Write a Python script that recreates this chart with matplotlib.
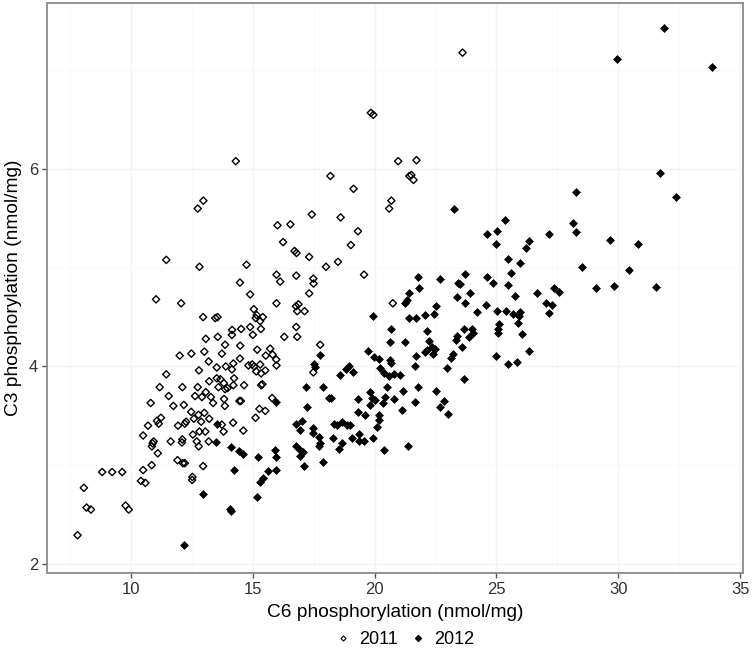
import matplotlib
matplotlib.use("Agg")
import matplotlib.pyplot as plt
from matplotlib.lines import Line2D

plt.rcParams['font.family'] = ['Liberation Sans', 'DejaVu Sans']

# 2011 series (open diamonds)
c6_2011 = [19.85, 19.95, 14.31, 20.97, 21.43, 18.19, 19.14, 12.98, 12.75, 20.69, 20.60, 17.43, 18.61, 16.02,
           16.55, 19.32, 16.25, 19.03, 16.72, 16.80, 17.32, 11.46, 12.82, 14.75, 18.01, 18.50, 14.48, 15.98,
           16.13, 16.79, 17.49, 17.50, 19.57, 14.90, 17.32, 11.04,
           23.61, 21.72, 21.51, 21.60,
           12.07, 15.98, 16.78, 16.88, 16.83, 17.13, 15.05, 15.17, 15.31, 15.42, 15.13, 12.97, 13.47, 13.56,
           14.16, 14.53, 14.90, 15.34, 15.01, 16.79, 16.83, 16.30, 13.57, 13.08, 14.15, 17.77, 13.87, 14.49,
           12.01, 12.49, 13.02, 13.74, 15.19, 15.72, 15.54, 15.82, 15.97, 15.98, 15.31, 14.98, 14.83, 14.48,
           14.21, 13.90, 14.15, 13.53, 13.20, 12.80, 13.53, 15.06, 15.15, 15.35, 15.52, 11.46, 13.22, 13.68,
           13.82, 13.60, 13.97, 14.21, 14.24, 14.65, 13.87, 11.19, 12.12, 11.56, 12.75, 12.64, 12.92, 13.08,
           13.38, 13.29, 13.83, 13.86, 14.52, 14.46, 15.35, 15.40, 15.80, 10.82, 11.75, 12.18, 12.48, 12.59,
           12.78, 13.02, 13.22, 12.89, 12.27, 11.08, 11.24, 10.71, 11.15, 11.94, 12.22, 13.81, 14.20, 14.62,
           13.74, 15.28, 15.12, 15.52, 12.55, 12.82, 13.06, 13.20, 12.79, 12.71, 12.12, 12.10, 11.64, 10.51,
           10.94, 10.87, 11.11, 10.90, 10.86, 10.51, 11.92, 12.14, 12.22, 12.97, 10.42, 10.60, 12.53, 12.52,
           8.83, 9.24, 9.65, 8.08, 8.19, 8.37, 9.79, 9.92, 7.82, 17.49, 20.75]
c3_2011 = [6.57, 6.55, 6.08, 6.08, 5.93, 5.93, 5.80, 5.68, 5.60, 5.68, 5.60, 5.54, 5.51, 5.43,
           5.44, 5.37, 5.26, 5.23, 5.17, 5.15, 5.11, 5.08, 5.01, 5.03, 5.01, 5.06, 4.85, 4.93,
           4.86, 4.92, 4.89, 4.84, 4.93, 4.73, 4.74, 4.68,
           7.18, 6.09, 5.94, 5.89,
           4.64, 4.64, 4.61, 4.63, 4.56, 4.56, 4.58, 4.52, 4.46, 4.50, 4.49, 4.50, 4.49, 4.50,
           4.37, 4.38, 4.40, 4.38, 4.32, 4.40, 4.30, 4.30, 4.30, 4.28, 4.32, 4.22, 4.22, 4.21,
           4.11, 4.13, 4.15, 4.13, 4.17, 4.18, 4.11, 4.12, 4.07, 4.01, 4.02, 4.02, 4.01, 4.08,
           4.03, 4.00, 3.97, 3.99, 4.05, 3.96, 3.88, 4.00, 3.95, 3.93, 3.96, 3.92, 3.85, 3.87,
           3.83, 3.79, 3.78, 3.81, 3.88, 3.81, 3.77, 3.79, 3.79, 3.70, 3.79, 3.70, 3.69, 3.74,
           3.63, 3.69, 3.67, 3.60, 3.65, 3.65, 3.81, 3.82, 3.68, 3.63, 3.60, 3.61, 3.54, 3.47,
           3.51, 3.53, 3.47, 3.44, 3.44, 3.45, 3.48, 3.40, 3.42, 3.40, 3.42, 3.34, 3.43, 3.35,
           3.41, 3.57, 3.48, 3.55, 3.31, 3.34, 3.34, 3.24, 3.19, 3.24, 3.26, 3.23, 3.24, 3.30,
           3.24, 3.19, 3.12, 3.22, 3.00, 2.95, 3.05, 3.02, 3.02, 2.99, 2.84, 2.82, 2.88, 2.85,
           2.93, 2.93, 2.93, 2.77, 2.57, 2.55, 2.59, 2.55, 2.29, 3.94, 4.64]

# 2012 series (filled diamonds)
c6_2012 = [31.87, 29.93, 33.86, 31.71, 32.37, 28.27, 23.28, 25.37, 24.61, 25.04, 24.99, 26.33, 26.22, 27.15,
           28.15, 28.27, 29.66, 30.79, 25.48, 25.96, 25.59, 28.49, 30.42, 21.79, 22.67, 23.72, 23.44, 23.52,
           24.62, 24.84, 25.48, 21.84, 21.40, 23.92, 23.39, 25.75, 26.66, 27.36, 27.58, 29.08, 29.84, 31.56,
           21.24, 21.34, 22.53, 22.43, 22.06, 21.40, 21.70, 23.73, 24.22, 24.58, 25.04, 25.38, 25.67, 25.96,
           25.92, 27.04, 27.26, 27.15, 25.89, 25.10, 25.06, 25.06, 26.03, 26.35, 24.99, 25.47, 25.85, 23.66,
           23.98, 24.05, 23.89, 23.40, 23.36, 23.59, 23.21, 23.14, 22.98, 23.66, 22.16, 22.25, 22.37, 22.47,
           22.40, 22.07, 22.16, 21.72, 21.66, 21.24, 21.06, 21.77, 21.17, 22.53, 21.66, 21.13, 22.85, 22.69,
           23.02, 21.36,
           12.18, 14.08, 14.11, 12.97, 15.17, 14.24, 15.32, 15.43, 15.65, 15.98, 14.11, 14.44, 14.60, 13.53,
           13.49, 15.23, 15.90, 15.98, 15.94, 16.80, 17.01, 16.95, 17.46, 17.49, 16.79, 16.95, 17.05, 16.95,
           17.10, 17.87, 17.72, 17.76, 17.72, 17.20, 17.25, 17.90, 18.15, 18.22, 17.50, 17.57, 17.76, 18.58,
           18.83, 18.97, 19.10, 19.73, 19.96, 20.18, 19.94, 20.69, 20.62, 20.65, 20.69, 20.24, 20.37, 20.58,
           20.79, 20.51, 19.80, 19.90, 19.83, 20.03, 20.44, 20.35, 20.79, 19.32, 19.32, 19.62, 20.20, 20.17,
           20.10, 18.32, 18.46, 18.66, 18.87, 19.00, 18.30, 18.66, 18.53, 19.08, 19.38, 19.38, 19.55, 19.94,
           20.37]
c3_2012 = [7.43, 7.12, 7.03, 5.96, 5.72, 5.77, 5.60, 5.48, 5.34, 5.37, 5.24, 5.27, 5.20, 5.34,
           5.45, 5.36, 5.28, 5.24, 5.09, 5.05, 4.95, 5.01, 4.98, 4.91, 4.89, 4.94, 4.85, 4.84,
           4.91, 4.85, 4.83, 4.80, 4.74, 4.74, 4.70, 4.71, 4.74, 4.80, 4.75, 4.80, 4.82, 4.81,
           4.64, 4.67, 4.61, 4.53, 4.52, 4.49, 4.49, 4.64, 4.55, 4.62, 4.56, 4.56, 4.53, 4.55,
           4.51, 4.64, 4.62, 4.54, 4.44, 4.43, 4.38, 4.34, 4.33, 4.16, 4.11, 4.02, 4.05, 4.38,
           4.38, 4.34, 4.30, 4.31, 4.27, 4.20, 4.13, 4.09, 3.98, 3.87, 4.36, 4.26, 4.20, 4.18,
           4.13, 4.15, 4.17, 4.11, 4.00, 4.25, 3.91, 3.79, 3.75, 3.75, 3.64, 3.56, 3.65, 3.59,
           3.52, 3.19,
           2.19, 2.56, 2.54, 2.71, 2.68, 2.95, 2.83, 2.87, 2.94, 2.95, 3.18, 3.14, 3.11, 3.42,
           3.23, 3.08, 3.15, 3.08, 3.64, 3.42, 3.45, 3.36, 3.38, 3.33, 3.19, 3.15, 3.13, 3.09,
           2.99, 3.03, 3.29, 3.22, 3.19, 3.79, 3.59, 3.79, 3.68, 3.68, 4.02, 3.99, 4.12, 3.91,
           3.97, 4.00, 3.94, 4.16, 4.10, 4.08, 4.51, 4.38, 4.25, 4.07, 4.03, 3.98, 3.93, 3.90,
           3.92, 3.79, 3.74, 3.68, 3.61, 3.66, 3.69, 3.63, 3.67, 3.67, 3.54, 3.51, 3.51, 3.46,
           3.39, 3.42, 3.41, 3.44, 3.41, 3.41, 3.28, 3.22, 3.16, 3.27, 3.32, 3.24, 3.24, 3.27,
           3.15]

series_labels = ["2011", "2012"]
x_ticks = [10, 15, 20, 25, 30, 35]
y_ticks = [2, 4, 6]

W, H = 756, 653
fig = plt.figure(figsize=(W / 100, H / 100), dpi=100)
ax = fig.add_axes([47.3 / W, 1 - 572.7 / H, (742.7 - 47.3) / W, (572.7 - 3.3) / H])

ax.set_xlim(6.58, 35.1)
ax.set_ylim(1.91, 7.68)

ax.set_xticks(x_ticks)
ax.set_yticks(y_ticks)
ax.set_xticks([7.5, 12.5, 17.5, 22.5, 27.5, 32.5], minor=True)
ax.set_yticks([3, 5, 7], minor=True)
ax.grid(True, which='major', color='#f4f4f4', linewidth=1.0, zorder=0)
ax.grid(True, which='minor', color='#f8f8f8', linewidth=0.6, zorder=0)
ax.tick_params(which='minor', length=0)
ax.tick_params(which='major', length=3.5, width=1.0, color='#555555', labelsize=12,
               labelcolor='#333333', pad=3)
for s in ax.spines.values():
    s.set_color('#8a8a8a')
    s.set_linewidth(1.3)
ax.set_axisbelow(True)

ax.scatter(c6_2011, c3_2011, marker='D', s=3.7 ** 2, facecolors='none', edgecolors='black',
           linewidths=1.0, zorder=3)
ax.scatter(c6_2012, c3_2012, marker='D', s=4.0 ** 2, facecolors='black', edgecolors='black',
           linewidths=0.5, zorder=3)

ax.set_xlabel("C6 phosphorylation (nmol/mg)", fontsize=13.8, labelpad=5)
ax.set_ylabel("C3 phosphorylation (nmol/mg)", fontsize=13.8, labelpad=5)

handles = [Line2D([], [], linestyle='none', marker='D', markersize=2.6, markerfacecolor='none',
                  markeredgecolor='black', markeredgewidth=0.8),
           Line2D([], [], linestyle='none', marker='D', markersize=3.0, markerfacecolor='black',
                  markeredgecolor='black')]
fig.legend(handles, series_labels, loc='center', bbox_to_anchor=(405 / W, 1 - 640 / H), ncol=2,
           frameon=False, fontsize=13, handletextpad=0.5, columnspacing=0.7, handlelength=0.8,
           borderaxespad=0, borderpad=0)

fig.savefig("out.png", dpi=100)
